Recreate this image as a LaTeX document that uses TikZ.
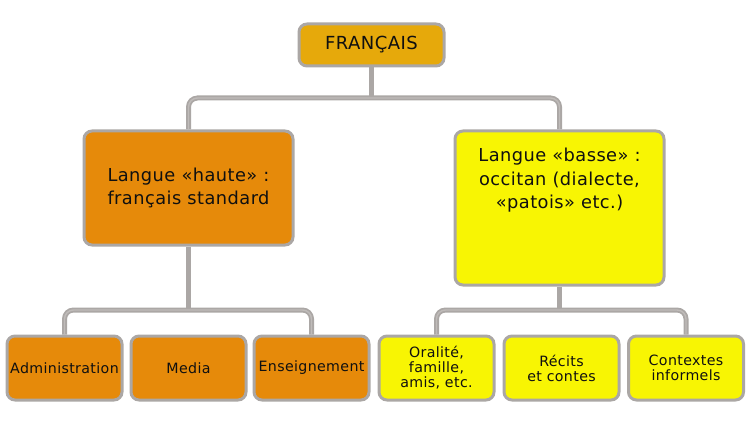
\documentclass[tikz,border=0pt]{standalone}
\usepackage{fontspec}
\setmainfont{DejaVu Sans}[LetterSpace=2.5]
\definecolor{topfill}{HTML}{E6A90B}
\definecolor{orfill}{HTML}{E68A0A}
\definecolor{yefill}{HTML}{F8F503}
\definecolor{bordergray}{HTML}{ABA7A5}
\definecolor{pipelight}{HTML}{BFBBB9}
\definecolor{txt}{HTML}{101010}
\tikzset{
  box/.style={draw=bordergray, line width=3pt, rounded corners=8pt, inner sep=0pt, align=center, text=txt},
  bigtext/.style={font=\fontsize{17.8}{23.5}\selectfont},
  smalltext/.style={font=\fontsize{14.2}{15}\selectfont},
  pipe/.style={draw=bordergray, line width=1.8pt, double=pipelight, double distance=1.4pt, rounded corners=9pt},
  trunk/.style={draw=bordergray, line width=4.8pt},
}
\begin{document}
\begin{tikzpicture}[x=1pt,y=-1pt]
\useasboundingbox (0,0) rectangle (754,422);
% nodes
\node[box, fill=topfill, minimum width=145, minimum height=42, font=\fontsize{18}{20}\selectfont] (top) at (371.5,45) {FRANÇAIS};
\node[box, fill=orfill, minimum width=209, minimum height=114, bigtext] (haute) at (188.5,188) {Langue «haute» :\\français standard};
\node[box, fill=yefill, minimum width=209, minimum height=154] (basse) at (559.5,208) {};
\node[bigtext, align=center, text=txt, anchor=north, inner sep=0pt] (bassetxt) at (559.5,148) {Langue «basse» :\\occitan (dialecte,\\«patois» etc.)};
% bottom left
\node[box, fill=orfill, minimum width=115, minimum height=64, smalltext] (adm) at (64.5,368) {Administration};
\node[box, fill=orfill, minimum width=115, minimum height=64, smalltext] (med) at (188.5,368) {Media};
\node[box, fill=orfill, minimum width=115, minimum height=64, smalltext] (ens) at (311.5,368) {Enseignement};
% bottom right
\node[box, fill=yefill, minimum width=115, minimum height=64, smalltext] (ora) at (436.5,368) {Oralité,\\famille,\\amis, etc.};
\node[box, fill=yefill, minimum width=115, minimum height=64, smalltext] (rec) at (561.5,368) {Récits\\et contes};
\node[box, fill=yefill, minimum width=115, minimum height=64, smalltext] (ctx) at (686,368) {Contextes\\informels};
% junctions
\coordinate (j1) at (371.5,98);
\coordinate (j2) at (188.5,310);
\coordinate (j3) at (559.5,310);
% connectors
\draw[trunk] (top.south) -- (j1);
\draw[pipe] (haute.north) |- (j1) -| (basse.north);
\draw[trunk] (haute.south) -- (j2);
\draw[pipe] (adm.north) |- (j2) -| (ens.north);
\draw[trunk] (basse.south) -- (j3);
\draw[pipe] (ora.north) |- (j3) -| (ctx.north);
\end{tikzpicture}
\end{document}
